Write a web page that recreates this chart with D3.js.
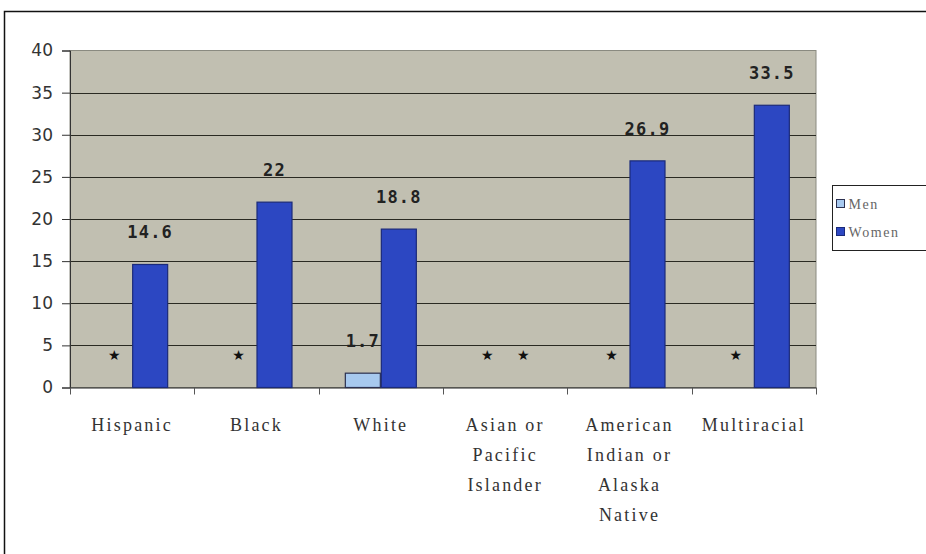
<!DOCTYPE html>
<html>
<head>
<meta charset="utf-8">
<script src="https://cdn.jsdelivr.net/npm/d3@7"></script>
<style>
  body { margin: 0; background: #fff; }
  svg { display: block; }
</style>
</head>
<body>
<svg id="chart" width="926" height="554"></svg>
<script>
// Rates by race/ethnicity, men vs. women ("*" = estimate suppressed)
const categories = ["Hispanic", "Black", "White", "Asian or Pacific Islander",
                    "American Indian or Alaska Native", "Multiracial"];
const categoryLines = [["Hispanic"], ["Black"], ["White"],
                       ["Asian or", "Pacific", "Islander"],
                       ["American", "Indian or", "Alaska", "Native"],
                       ["Multiracial"]];
const seriesNames = ["Men", "Women"];
const menValues = [null, null, 1.7, null, null, null];
const womenValues = [14.6, 22, 18.8, null, 26.9, 33.5];
const yTicks = [0, 5, 10, 15, 20, 25, 30, 35, 40];
const suppressedMark = "\u2605";

const colors = { Men: "#a7c9ef", Women: "#2c47c2" };
const outlines = { Men: "#2b3050", Women: "#1b2a7a" };

const svg = d3.select("#chart");

// outer frame
svg.append("rect")
  .attr("x", 4.5).attr("y", 11.5)
  .attr("width", 940).attr("height", 560)
  .attr("fill", "#fff").attr("stroke", "#111").attr("stroke-width", 1.5);

const plot = { left: 70, right: 816, top: 50.5, bottom: 387.5 };

const x = d3.scaleBand().domain(categories).range([plot.left, plot.right]).paddingInner(0).paddingOuter(0);
const xs = d3.scaleBand().domain(seriesNames).range([0, x.bandwidth()]).paddingInner(0).paddingOuter(0.727);
const y = d3.scaleLinear().domain([0, 40]).range([plot.bottom, plot.top]);

// plot background
svg.append("rect")
  .attr("x", plot.left).attr("y", plot.top)
  .attr("width", plot.right - plot.left).attr("height", plot.bottom - plot.top)
  .attr("fill", "#c1bfb1").attr("stroke", "#8a8a80").attr("stroke-width", 1);

// gridlines
svg.append("g").selectAll("line")
  .data(yTicks.filter(t => t > 0 && t < 40))
  .join("line")
  .attr("x1", plot.left).attr("x2", plot.right)
  .attr("y1", d => Math.round(y(d)) + 0.5).attr("y2", d => Math.round(y(d)) + 0.5)
  .attr("stroke", "#2a2a22").attr("stroke-width", 1.2);

// y axis
const yAxis = d3.axisLeft(y).tickValues(yTicks).tickSize(8).tickPadding(9);
const gy = svg.append("g").attr("transform", `translate(${plot.left},0)`).call(yAxis);
gy.select(".domain").attr("stroke", "#333");
gy.selectAll(".tick line").attr("stroke", "#333");
gy.selectAll(".tick text")
  .attr("font-family", "DejaVu Sans, Verdana, sans-serif")
  .attr("font-size", 17).attr("fill", "#333");

// x axis baseline and category ticks
const gx = svg.append("g");
gx.append("line")
  .attr("x1", plot.left).attr("x2", plot.right)
  .attr("y1", plot.bottom + 0.5).attr("y2", plot.bottom + 0.5)
  .attr("stroke", "#222").attr("stroke-width", 1.2);
const boundaries = categories.map(c => x(c)).concat([x(categories[categories.length - 1]) + x.bandwidth()]);
gx.selectAll("line.tk").data(boundaries).join("line").attr("class", "tk")
  .attr("x1", d => Math.round(d) + 0.5).attr("x2", d => Math.round(d) + 0.5)
  .attr("y1", plot.bottom).attr("y2", plot.bottom + 7)
  .attr("stroke", "#555");

// category labels
categories.forEach((c, i) => {
  const t = svg.append("text")
    .attr("x", x(c) + x.bandwidth() / 2)
    .attr("y", 431)
    .attr("text-anchor", "middle")
    .attr("font-family", "Liberation Serif, Times New Roman, serif")
    .attr("font-size", 18).attr("letter-spacing", 2.2).attr("fill", "#333");
  categoryLines[i].forEach((line, j) => {
    t.append("tspan").attr("x", x(c) + x.bandwidth() / 2).attr("dy", j === 0 ? 0 : 30).text(line);
  });
});

// bars
const rows = categories.map((c, i) => ({ cat: c, Men: menValues[i], Women: womenValues[i] }));
const bars = svg.append("g");
rows.forEach(r => {
  seriesNames.forEach(s => {
    const v = r[s];
    const cx = x(r.cat) + xs(s) + xs.bandwidth() / 2;
    if (v == null) {
      bars.append("text")
        .attr("x", cx).attr("y", y(4) + 6)
        .attr("text-anchor", "middle")
        .attr("font-family", "DejaVu Sans, sans-serif")
        .attr("font-size", 14).attr("fill", "#111")
        .text(suppressedMark);
      return;
    }
    bars.append("rect")
      .attr("x", x(r.cat) + xs(s) + 0.5)
      .attr("y", y(v))
      .attr("width", xs.bandwidth() - 1)
      .attr("height", y(0) - y(v))
      .attr("fill", colors[s]).attr("stroke", outlines[s]).attr("stroke-width", 1.2);
    bars.append("text")
      .attr("x", cx).attr("y", y(v) - 26)
      .attr("text-anchor", "middle")
      .attr("font-family", "DejaVu Sans Mono, monospace")
      .attr("font-weight", "bold")
      .attr("font-size", 17).attr("letter-spacing", 1.2)
      .attr("fill", "#222")
      .text(v);
  });
});

// legend
const lg = svg.append("g").attr("transform", "translate(832.5,185.5)");
lg.append("rect").attr("width", 110).attr("height", 65)
  .attr("fill", "#fff").attr("stroke", "#222").attr("stroke-width", 1);
seriesNames.forEach((s, i) => {
  lg.append("rect").attr("x", 4).attr("y", 14 + i * 28).attr("width", 8).attr("height", 8)
    .attr("fill", colors[s]).attr("stroke", outlines[s]);
  lg.append("text").attr("x", 16).attr("y", 23 + i * 28)
    .attr("font-family", "Liberation Serif, Times New Roman, serif")
    .attr("font-size", 14).attr("letter-spacing", 1.6).attr("fill", "#666")
    .text(s);
});
</script>
</body>
</html>
